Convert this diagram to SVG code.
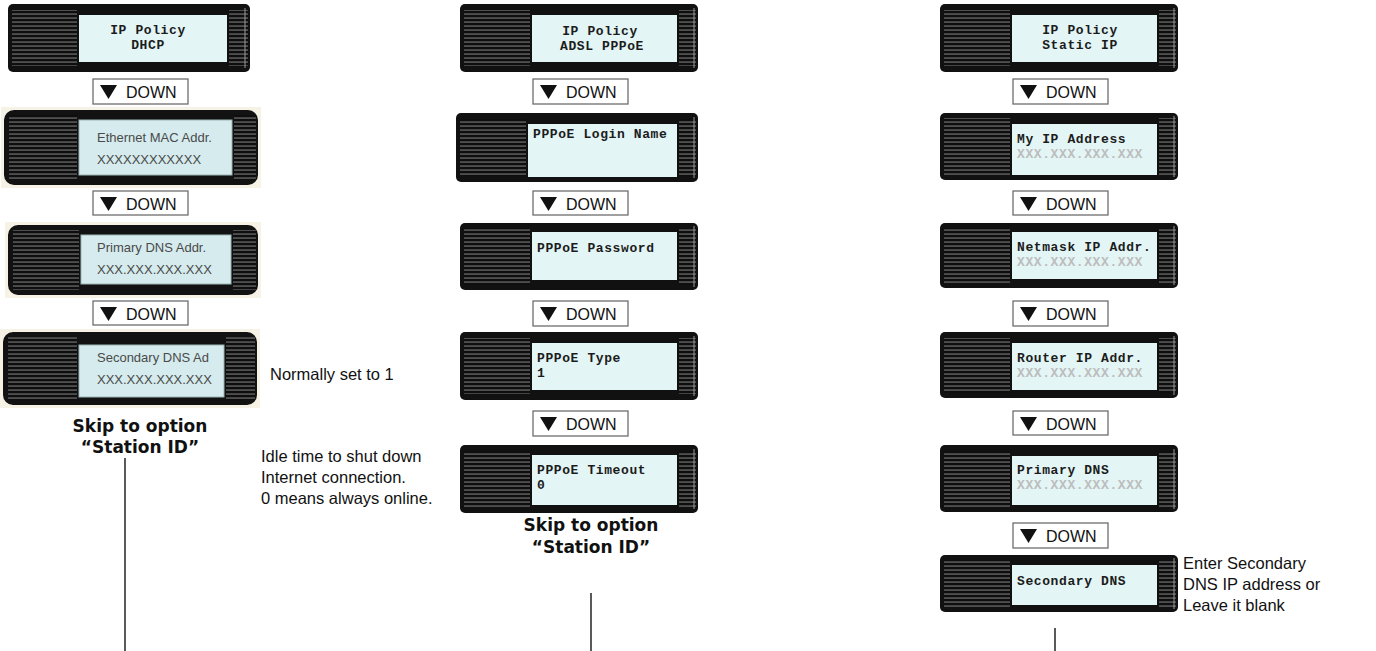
<svg xmlns="http://www.w3.org/2000/svg" width="1376" height="651" viewBox="0 0 1376 651">
<defs>
<pattern id="stripes" width="8" height="4" patternUnits="userSpaceOnUse">
<rect width="8" height="4" fill="#0e0e0e"/>
<rect y="1.5" width="8" height="1.1" fill="#7a7a7a"/>
</pattern>
<style>
.frame{fill:#111}
.pframe{fill:#121212}
.stripe{fill:url(#stripes)}
.screen{fill:#e3f5f5}
.pscreen{fill:#d5ebed;stroke:#9fb6b8;stroke-width:1}
.rib{stroke:#9a9a9a;stroke-width:1}
.backdrop{fill:#f7f2e6}
.mono{font-family:"Liberation Mono","DejaVu Sans Mono",monospace;font-size:13px;letter-spacing:0.6px;font-weight:bold;fill:#1c1c1c}
.grey{fill:#bcbcbc}
.ptext{font-family:"Liberation Sans",Arial,sans-serif;font-size:13px;fill:#4a4a4a}
.dbox{fill:#fff;stroke:#6e6e6e;stroke-width:1.3}
.tri{fill:#111}
.down{font-family:"Liberation Sans",Arial,sans-serif;font-size:16px;fill:#111}
.note{font-family:"Liberation Sans",Arial,sans-serif;font-size:16.5px;fill:#111}
.skip{font-family:"DejaVu Sans",Verdana,sans-serif;font-size:17px;font-weight:bold;fill:#111;text-anchor:middle}
.conn{stroke:#000;stroke-width:1.3}
</style>
</defs>
<rect width="1376" height="651" fill="#fff"/>

<!-- Column 1: DHCP -->
<g id="c1n1">
<rect class="frame" x="8" y="4" width="242" height="68" rx="5"/>
<rect class="stripe" x="12" y="10" width="65" height="56"/>
<rect class="stripe" x="229" y="10" width="19" height="56"/>
<line class="rib" x1="245" y1="8" x2="245" y2="68"/>
<rect class="screen" x="79" y="15" width="148" height="47"/>
<text class="mono" x="148" y="34" text-anchor="middle">IP Policy</text>
<text class="mono" x="148" y="49" text-anchor="middle">DHCP</text>
</g>
<g id="c1d1"><rect class="dbox" x="93" y="79" width="95" height="25"/><polygon class="tri" points="100,85 117,85 108.5,99"/><text class="down" x="126" y="98">DOWN</text></g>

<g id="c1n2">
<rect class="backdrop" x="1" y="107" width="260" height="81"/>
<rect class="pframe" x="4" y="110" width="254" height="75" rx="10"/>
<rect class="stripe" x="9" y="115" width="68" height="65"/>
<rect class="stripe" x="234" y="115" width="22" height="65"/>
<rect class="pscreen" x="79" y="120" width="153" height="55"/>
<text class="ptext" x="97" y="142">Ethernet MAC Addr.</text>
<text class="ptext" x="97" y="164">XXXXXXXXXXXX</text>
</g>
<g id="c1d2"><rect class="dbox" x="93" y="191" width="95" height="24"/><polygon class="tri" points="100,197 117,197 108.5,211"/><text class="down" x="126" y="210">DOWN</text></g>

<g id="c1n3">
<rect class="backdrop" x="5" y="222" width="256" height="76"/>
<rect class="pframe" x="8" y="225" width="250" height="70" rx="10"/>
<rect class="stripe" x="13" y="230" width="66" height="60"/>
<rect class="stripe" x="233" y="230" width="23" height="60"/>
<rect class="pscreen" x="81" y="235" width="150" height="49"/>
<text class="ptext" x="97" y="252">Primary DNS Addr.</text>
<text class="ptext" x="97" y="274">XXX.XXX.XXX.XXX</text>
</g>
<g id="c1d3"><rect class="dbox" x="93" y="301" width="95" height="24"/><polygon class="tri" points="100,307 117,307 108.5,321"/><text class="down" x="126" y="320">DOWN</text></g>

<g id="c1n4">
<rect class="backdrop" x="0" y="329" width="260" height="79"/>
<rect class="pframe" x="3" y="332" width="254" height="73" rx="10"/>
<rect class="stripe" x="8" y="337" width="69" height="63"/>
<rect class="stripe" x="226" y="337" width="29" height="63"/>
<rect class="pscreen" x="79" y="345" width="145" height="52"/>
<text class="ptext" x="97" y="362">Secondary DNS Ad</text>
<text class="ptext" x="97" y="384">XXX.XXX.XXX.XXX</text>
</g>
<g id="c1note"><text class="note" x="270" y="380">Normally set to 1</text></g>
<g id="c1skip"><text class="skip" x="140" y="432">Skip to option</text><text class="skip" x="140" y="453">“Station ID”</text></g>

<!-- Column 2: ADSL PPPoE -->
<g id="c2n1">
<rect class="frame" x="460" y="4" width="238" height="68" rx="5"/>
<rect class="stripe" x="464" y="10" width="66" height="56"/>
<rect class="stripe" x="679" y="10" width="17" height="56"/>
<line class="rib" x1="694" y1="8" x2="694" y2="68"/>
<rect class="screen" x="532" y="15" width="145" height="47"/>
<text class="mono" x="600" y="35" text-anchor="middle">IP Policy</text>
<text class="mono" x="602" y="50" text-anchor="middle">ADSL PPPoE</text>
</g>
<g id="c2d1"><rect class="dbox" x="533" y="79" width="95" height="25"/><polygon class="tri" points="540,85 557,85 548.5,99"/><text class="down" x="566" y="98">DOWN</text></g>

<g id="c2n2">
<rect class="frame" x="456" y="113" width="242" height="69" rx="5"/>
<rect class="stripe" x="460" y="119" width="66" height="57"/>
<rect class="stripe" x="679" y="119" width="17" height="57"/>
<line class="rib" x1="694" y1="117" x2="694" y2="178"/>
<rect class="screen" x="528" y="124" width="149" height="53"/>
<text class="mono" x="533" y="138">PPPoE Login Name</text>
</g>
<g id="c2d2"><rect class="dbox" x="533" y="191" width="95" height="24"/><polygon class="tri" points="540,197 557,197 548.5,211"/><text class="down" x="566" y="210">DOWN</text></g>

<g id="c2n3">
<rect class="frame" x="460" y="223" width="238" height="67" rx="5"/>
<rect class="stripe" x="464" y="228" width="66" height="57"/>
<rect class="stripe" x="679" y="228" width="17" height="57"/>
<line class="rib" x1="694" y1="226" x2="694" y2="287"/>
<rect class="screen" x="532" y="232" width="145" height="48"/>
<text class="mono" x="537" y="252">PPPoE Password</text>
</g>
<g id="c2d3"><rect class="dbox" x="533" y="301" width="95" height="25"/><polygon class="tri" points="540,307 557,307 548.5,321"/><text class="down" x="566" y="320">DOWN</text></g>

<g id="c2n4">
<rect class="frame" x="460" y="332" width="238" height="68" rx="5"/>
<rect class="stripe" x="464" y="338" width="66" height="56"/>
<rect class="stripe" x="679" y="338" width="17" height="56"/>
<line class="rib" x1="694" y1="336" x2="694" y2="396"/>
<rect class="screen" x="532" y="343" width="145" height="47"/>
<text class="mono" x="537" y="362">PPPoE Type</text>
<text class="mono" x="537" y="377">1</text>
</g>
<g id="c2d4"><rect class="dbox" x="533" y="411" width="95" height="25"/><polygon class="tri" points="540,417 557,417 548.5,431"/><text class="down" x="566" y="430">DOWN</text></g>

<g id="c2n5">
<rect class="frame" x="460" y="445" width="238" height="68" rx="5"/>
<rect class="stripe" x="464" y="451" width="66" height="56"/>
<rect class="stripe" x="679" y="451" width="17" height="56"/>
<line class="rib" x1="694" y1="449" x2="694" y2="509"/>
<rect class="screen" x="532" y="455" width="145" height="50"/>
<text class="mono" x="537" y="474">PPPoE Timeout</text>
<text class="mono" x="537" y="489">0</text>
</g>
<g id="c2note"><text class="note" x="261" y="462">Idle time to shut down</text><text class="note" x="261" y="483">Internet connection.</text><text class="note" x="261" y="504">0 means always online.</text></g>
<g id="c2skip"><text class="skip" x="591" y="531">Skip to option</text><text class="skip" x="591" y="553">“Station ID”</text></g>

<!-- Column 3: Static IP -->
<g id="c3n1">
<rect class="frame" x="940" y="4" width="238" height="68" rx="5"/>
<rect class="stripe" x="944" y="10" width="66" height="56"/>
<rect class="stripe" x="1159" y="10" width="17" height="56"/>
<line class="rib" x1="1174" y1="8" x2="1174" y2="68"/>
<rect class="screen" x="1012" y="15" width="145" height="47"/>
<text class="mono" x="1080" y="34" text-anchor="middle">IP Policy</text>
<text class="mono" x="1080" y="49" text-anchor="middle">Static IP</text>
</g>
<g id="c3d1"><rect class="dbox" x="1013" y="79" width="95" height="25"/><polygon class="tri" points="1020,85 1037,85 1028.5,99"/><text class="down" x="1046" y="98">DOWN</text></g>

<g id="c3n2">
<rect class="frame" x="940" y="113" width="238" height="67" rx="5"/>
<rect class="stripe" x="944" y="118" width="66" height="57"/>
<rect class="stripe" x="1159" y="118" width="17" height="57"/>
<line class="rib" x1="1174" y1="116" x2="1174" y2="177"/>
<rect class="screen" x="1012" y="124" width="145" height="51"/>
<text class="mono" x="1017" y="143">My IP Address</text>
<text class="mono grey" x="1017" y="158">XXX.XXX.XXX.XXX</text>
</g>
<g id="c3d2"><rect class="dbox" x="1013" y="191" width="95" height="24"/><polygon class="tri" points="1020,197 1037,197 1028.5,211"/><text class="down" x="1046" y="210">DOWN</text></g>

<g id="c3n3">
<rect class="frame" x="940" y="223" width="238" height="65" rx="5"/>
<rect class="stripe" x="944" y="228" width="66" height="55"/>
<rect class="stripe" x="1159" y="228" width="17" height="55"/>
<line class="rib" x1="1174" y1="226" x2="1174" y2="285"/>
<rect class="screen" x="1012" y="232" width="145" height="47"/>
<text class="mono" x="1017" y="251">Netmask IP Addr.</text>
<text class="mono grey" x="1017" y="266">XXX.XXX.XXX.XXX</text>
</g>
<g id="c3d3"><rect class="dbox" x="1013" y="301" width="95" height="25"/><polygon class="tri" points="1020,307 1037,307 1028.5,321"/><text class="down" x="1046" y="320">DOWN</text></g>

<g id="c3n4">
<rect class="frame" x="940" y="332" width="238" height="66" rx="5"/>
<rect class="stripe" x="944" y="338" width="66" height="55"/>
<rect class="stripe" x="1159" y="338" width="17" height="55"/>
<line class="rib" x1="1174" y1="336" x2="1174" y2="395"/>
<rect class="screen" x="1012" y="343" width="145" height="47"/>
<text class="mono" x="1017" y="362">Router IP Addr.</text>
<text class="mono grey" x="1017" y="377">XXX.XXX.XXX.XXX</text>
</g>
<g id="c3d4"><rect class="dbox" x="1013" y="411" width="95" height="24"/><polygon class="tri" points="1020,417 1037,417 1028.5,431"/><text class="down" x="1046" y="430">DOWN</text></g>

<g id="c3n5">
<rect class="frame" x="940" y="445" width="238" height="67" rx="5"/>
<rect class="stripe" x="944" y="451" width="66" height="56"/>
<rect class="stripe" x="1159" y="451" width="17" height="56"/>
<line class="rib" x1="1174" y1="449" x2="1174" y2="509"/>
<rect class="screen" x="1012" y="456" width="145" height="49"/>
<text class="mono" x="1017" y="474">Primary DNS</text>
<text class="mono grey" x="1017" y="489">XXX.XXX.XXX.XXX</text>
</g>
<g id="c3d5"><rect class="dbox" x="1013" y="523" width="95" height="25"/><polygon class="tri" points="1020,529 1037,529 1028.5,543"/><text class="down" x="1046" y="542">DOWN</text></g>

<g id="c3n6">
<rect class="frame" x="940" y="555" width="238" height="57" rx="5"/>
<rect class="stripe" x="944" y="560" width="66" height="47"/>
<rect class="stripe" x="1159" y="560" width="17" height="47"/>
<line class="rib" x1="1174" y1="558" x2="1174" y2="609"/>
<rect class="screen" x="1012" y="565" width="145" height="40"/>
<text class="mono" x="1017" y="585">Secondary DNS</text>
</g>
<g id="c3note"><text class="note" x="1183" y="569">Enter Secondary</text><text class="note" x="1183" y="590">DNS IP address or</text><text class="note" x="1183" y="611">Leave it blank</text></g>

<g id="connectors">
<line class="conn" x1="125" y1="458" x2="125" y2="651"/>
<line class="conn" x1="591" y1="593" x2="591" y2="651"/>
<line class="conn" x1="1055" y1="628" x2="1055" y2="651"/>
</g>
</svg>
